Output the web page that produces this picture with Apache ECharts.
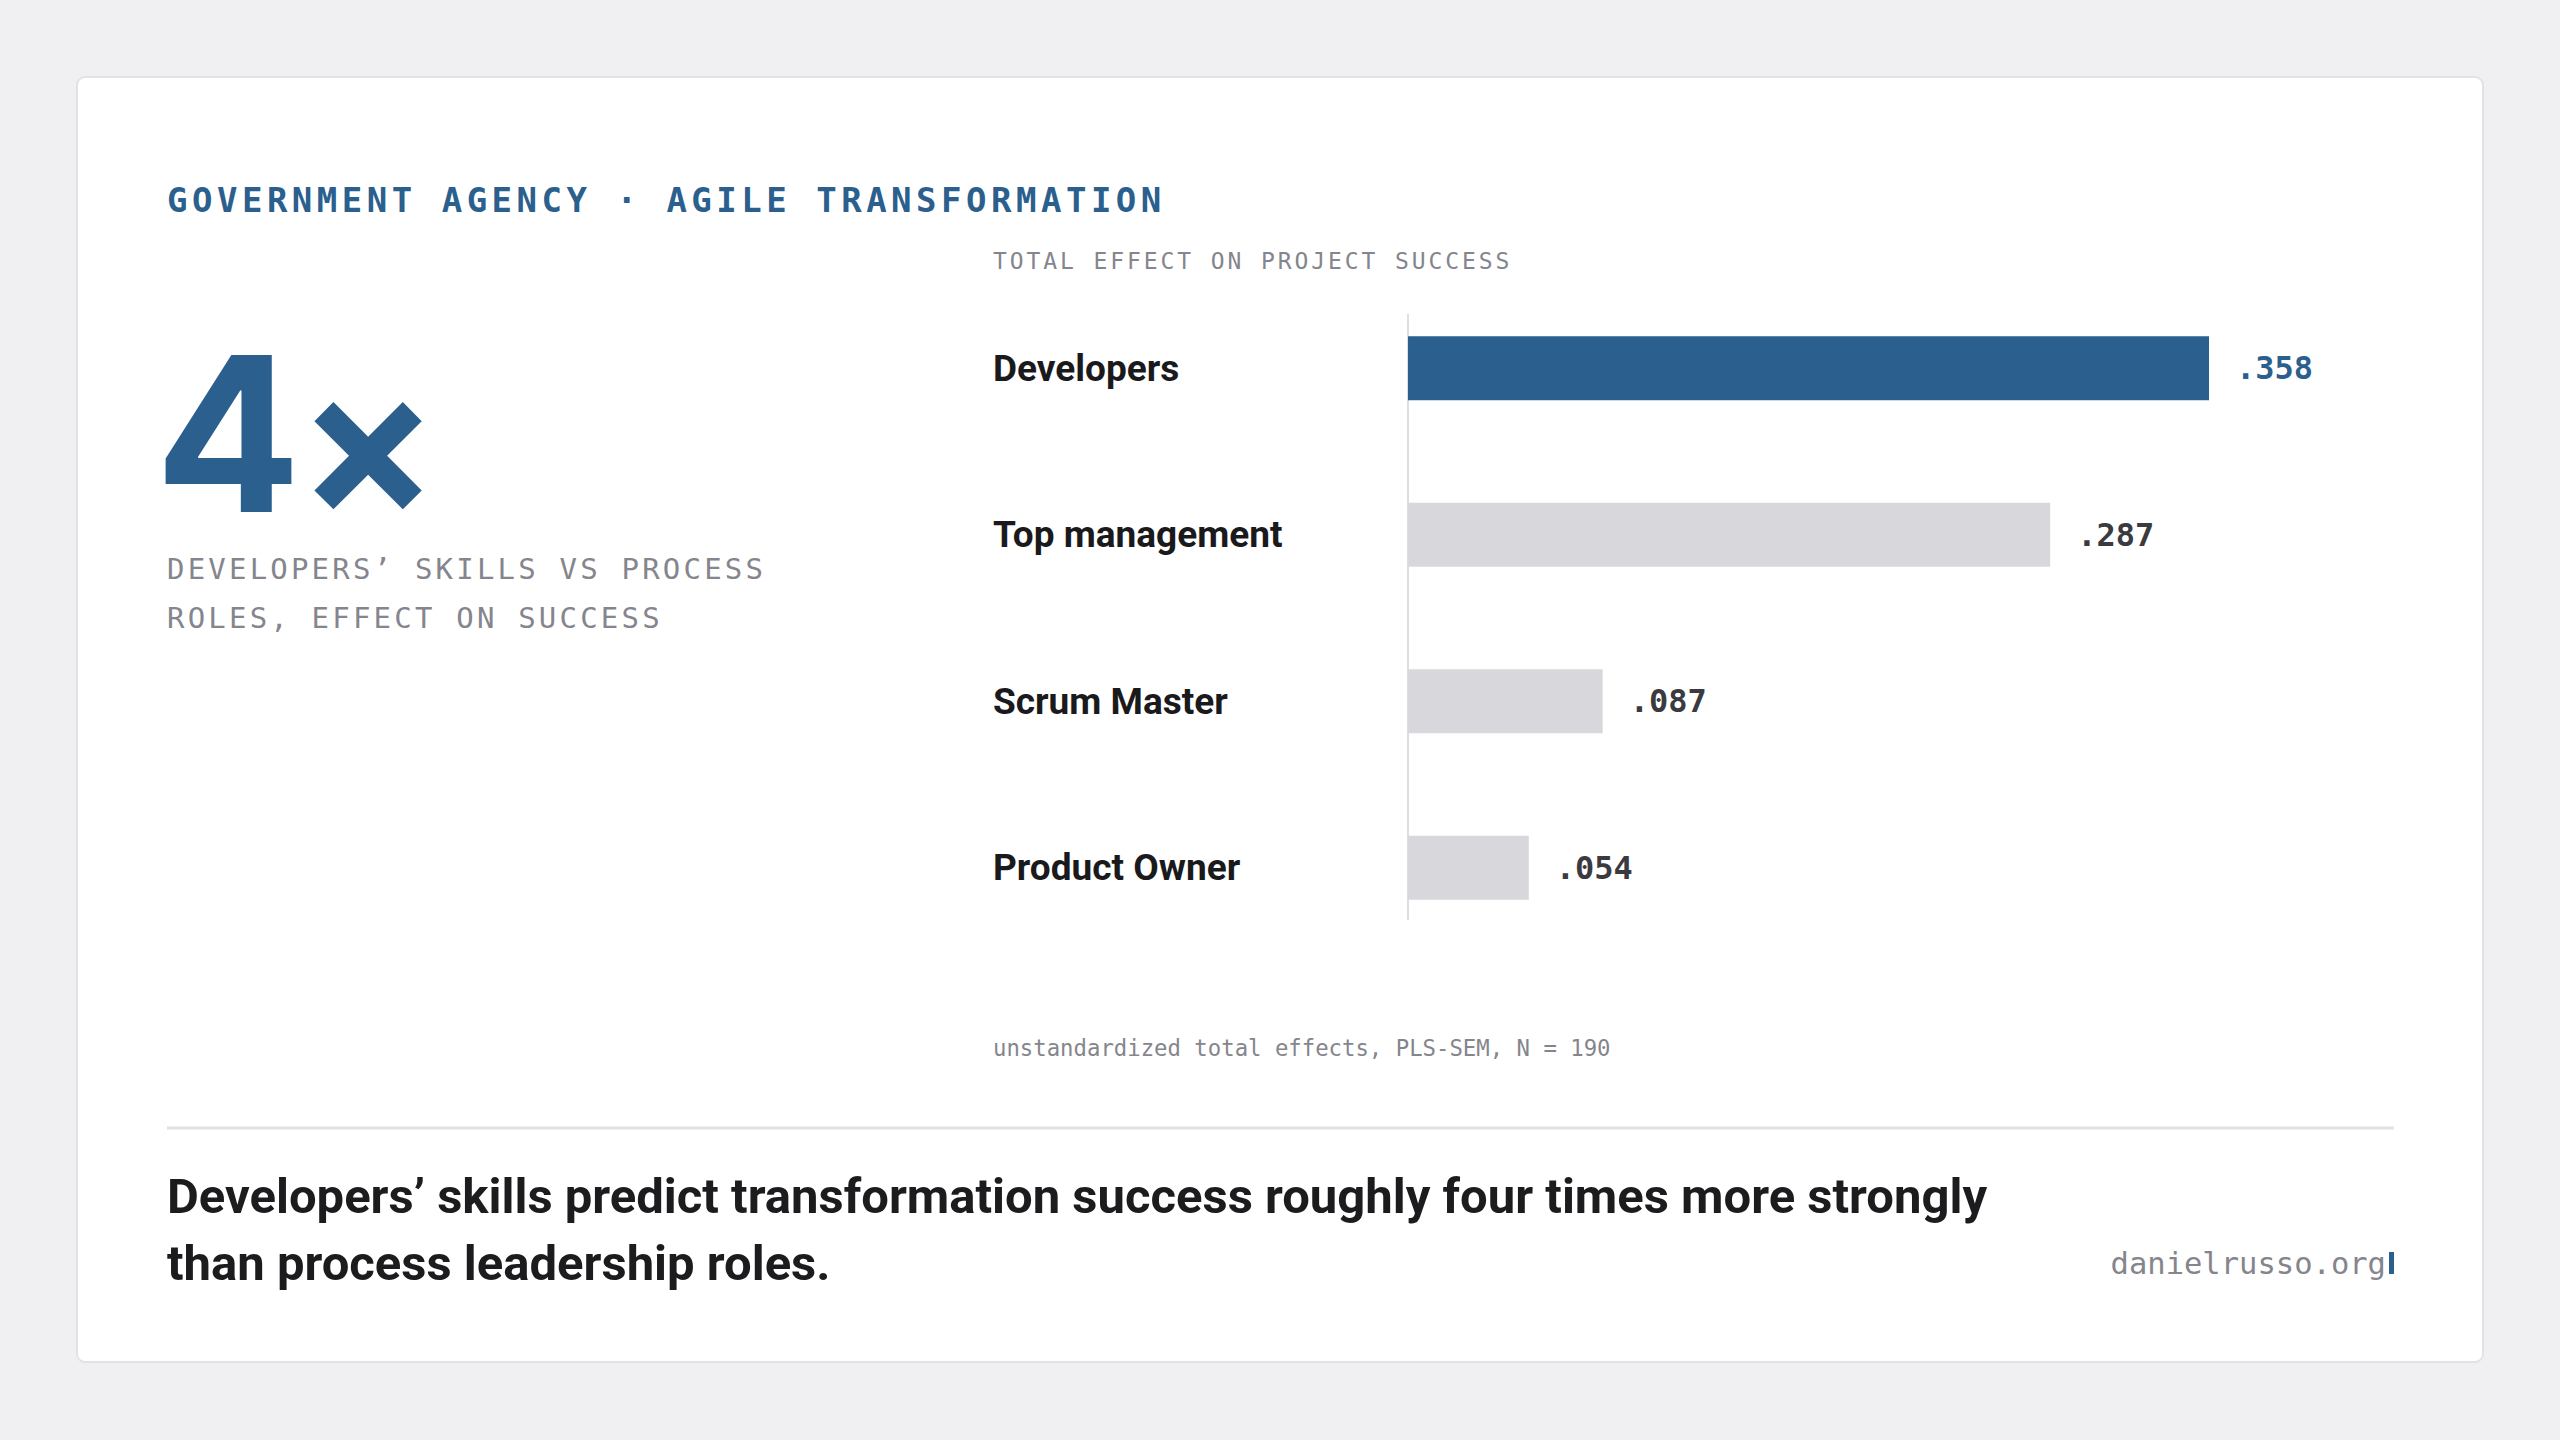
<!DOCTYPE html>
<html lang="en">
<head>
    <meta charset="UTF-8">
    <title>Agile transformation</title>
    <style>
        html, body { margin: 0; padding: 0; background: #f0f0f2; }
        #main { width: 2560px; height: 1440px; }
        /* letter spacing for the mono caps texts (svg renderer) */
        #main text[style*="zzlsA"] { letter-spacing: 4.5px; }
        #main text[style*="zzlsB"] { letter-spacing: 3.2px; }
        #main text[style*="zzlsC"] { letter-spacing: 2.9px; }
    </style>
</head>
<body>
<div id="main"></div>
<script src="https://cdn.jsdelivr.net/npm/echarts@6/dist/echarts.min.js"></script>
<script type="text/javascript">
    // data
    var categories = ['Developers', 'Top management', 'Scrum Master', 'Product Owner'];
    var effects = [0.358, 0.287, 0.087, 0.054];
    var highlight = 'Developers';

    var BLUE = '#2b5f8e';
    var GREY_BAR = '#d8d8dc';
    var MUTED = '#85858d';
    var MONO = "'DejaVu Sans Mono', monospace";
    var SANS = "Roboto, 'Noto Sans', sans-serif";

    var myChart = echarts.init(document.getElementById('main'), null, {renderer: 'svg'});

    var barData = [];
    for (var i = 0; i < categories.length; i++) {
        var hi = categories[i] === highlight;
        barData.push({
            value: effects[i],
            itemStyle: {color: hi ? BLUE : GREY_BAR},
            label: {color: hi ? BLUE : '#3a3a40'}
        });
    }

    function txt(x, y, text, font, fill, align, lh) {
        var st = {text: text, font: font, fill: fill, align: align || 'left', verticalAlign: 'middle'};
        if (lh) st.lineHeight = lh;
        return {type: 'text', x: x, y: y, silent: true, style: st};
    }

    myChart.setOption({
        backgroundColor: '#f0f0f2',
        animation: false,
        grid: {left: 1408, top: 285, width: 895, height: 666, outerBoundsMode: 'none', containLabel: false},
        xAxis: {
            type: 'value', min: 0, max: 0.4,
            axisLine: {show: false}, axisTick: {show: false},
            axisLabel: {show: false}, splitLine: {show: false}
        },
        yAxis: {
            type: 'category', inverse: true, data: categories,
            axisLine: {show: false}, axisTick: {show: false},
            axisLabel: {
                margin: 415, align: 'left', color: '#1a1a1d',
                fontFamily: SANS, fontWeight: 'bold', fontSize: 37
            }
        },
        series: [{
            type: 'bar',
            barWidth: 64,
            data: barData,
            z: 5,
            label: {
                show: true, position: 'right', distance: 27,
                fontFamily: MONO, fontSize: 32, fontWeight: 'bold',
                formatter: function (p) { return p.value.toFixed(3).replace(/^0/, ''); }
            }
        }],
        graphic: [
            // card
            {
                type: 'rect', z: -10, silent: true,
                shape: {x: 77, y: 77, width: 2406, height: 1285, r: 8},
                style: {fill: '#ffffff', stroke: '#e2e2e6', lineWidth: 2}
            },
            // axis line
            {
                type: 'line', z: 1, silent: true,
                shape: {x1: 1408, y1: 314, x2: 1408, y2: 920},
                style: {stroke: '#dedee2', lineWidth: 2}
            },
            txt(167, 200, 'GOVERNMENT AGENCY · AGILE TRANSFORMATION', "bold 34px 'DejaVu Sans Mono', zzlsA", BLUE),
            txt(993, 261, 'TOTAL EFFECT ON PROJECT SUCCESS', "23px 'DejaVu Sans Mono', zzlsC", MUTED),
            txt(155, 433, '4', "bold 216px Inter, Roboto, sans-serif", BLUE, 'left', 150),
            txt(368, 440, '×', "bold 209px Inter, Roboto, sans-serif", BLUE, 'center', 120),
            txt(167, 569, 'DEVELOPERS’ SKILLS VS PROCESS', "29px 'DejaVu Sans Mono', zzlsB", MUTED),
            txt(167, 618, 'ROLES, EFFECT ON SUCCESS', "29px 'DejaVu Sans Mono', zzlsB", MUTED),
            txt(993, 1048, 'unstandardized total effects, PLS-SEM, N = 190', '22.3px ' + MONO, MUTED),
            // divider
            {
                type: 'line', silent: true,
                shape: {x1: 167, y1: 1128, x2: 2394, y2: 1128},
                style: {stroke: '#e2e2e6', lineWidth: 3}
            },
            txt(167, 1196, 'Developers’ skills predict transformation success roughly four times more strongly', 'bold 49px ' + SANS, '#1c1c1f'),
            txt(167, 1263, 'than process leadership roles.', 'bold 49px ' + SANS, '#1c1c1f'),
            txt(2386, 1263, 'danielrusso.org', '30.5px ' + MONO, MUTED, 'right'),
            {
                type: 'rect', silent: true,
                shape: {x: 2389, y: 1252, width: 5, height: 22},
                style: {fill: BLUE}
            }
        ]
    });
</script>
</body>
</html>
